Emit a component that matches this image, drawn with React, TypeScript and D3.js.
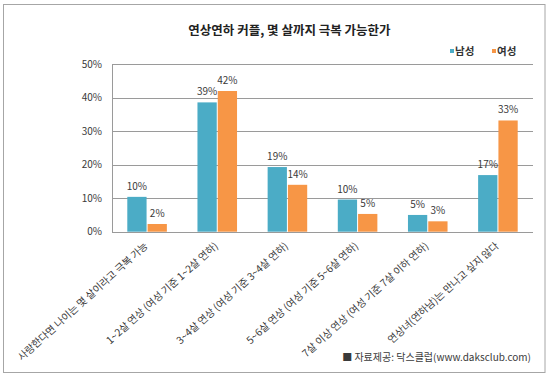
import React from "react";
import * as d3 from "d3";

const categories = [
  "사랑한다면 나이는 몇 살이라고 극복 가능",
  "1~2살 연상 (여성 기준 1~2살 연하)",
  "3~4살 연상 (여성 기준 3~4살 연하)",
  "5~6살 연상 (여성 기준 5~6살 연하)",
  "7살 이상 연상 (여성 기준 7살 이하 연하)",
  "연상녀(연하남)는 만나고 싶지 않다",
];
const seriesNames = ["남성", "여성"];
const men = [10.4, 38.6, 19.3, 9.6, 5.0, 16.9];
const women = [2.3, 42.0, 14.0, 5.3, 3.1, 33.2];
const yTicks = [0, 10, 20, 30, 40, 50];
const colors = ["#4BACC6", "#F79646"];
const title = "연상연하 커플, 몇 살까지 극복 가능한가";
const source = "■ 자료제공: 닥스클럽(www.daksclub.com)";

const FONT = "'Noto Sans CJK KR', 'Noto Sans', sans-serif";

export default function App() {
  const W = 550, H = 380;
  const left = 112, right = 533, top = 64.2, bottom = 231.7;
  const y = d3.scaleLinear().domain([0, 50]).range([bottom, top]);
  const x0 = d3.scaleBand<string>().domain(categories).range([left, right]).paddingInner(0).paddingOuter(0);
  const bw = x0.bandwidth();
  const x1 = d3.scaleBand<string>().domain(seriesNames).range([bw * 0.218, bw * 0.782]).paddingInner(0.05).paddingOuter(0);
  const data = [men, women];
  const textColor = "#3a3a3a";

  return (
    <svg width={W} height={H} style={{ position: "absolute", left: 0, top: 0, background: "#fff" }} fontFamily={FONT}>
      <rect x={0} y={0} width={W} height={H} fill="#fff" />
      <rect x={3.5} y={4.5} width={541.5} height={368} fill="none" stroke="#a6a6a6" strokeWidth={1} />
      <text x={289.5} y={35} textAnchor="middle" fontSize={12.5} fontWeight={700} fill="#222">{title}</text>
      {/* legend */}
      {seriesNames.map((s, i) => {
        const lx = [450, 492][i];
        return (
          <g key={s}>
            <rect x={lx} y={49} width={4} height={4} fill={colors[i]} />
            <text x={lx + 5} y={55} fontSize={10.5} fontWeight={700} fill="#333">{s}</text>
          </g>
        );
      })}
      {/* gridlines */}
      {yTicks.map((t) => (
        <g key={t}>
          <line x1={left} x2={right} y1={Math.round(y(t)) + 0.5} y2={Math.round(y(t)) + 0.5} stroke="#9a9a9a" strokeWidth={1} />
          <text x={102} y={y(t) + 3.5} textAnchor="end" fontSize={10} fill={textColor}>{`${t}%`}</text>
        </g>
      ))}
      <line x1={left + 0.5} x2={left + 0.5} y1={Math.round(top)} y2={Math.round(bottom) + 1} stroke="#9a9a9a" strokeWidth={1} />
      {/* bars */}
      {categories.map((c, ci) => (
        <g key={c} transform={`translate(${x0(c)},0)`}>
          {seriesNames.map((s, si) => {
            const v = data[si][ci];
            const bx = x1(s)!;
            return (
              <g key={s}>
                <rect x={bx} y={y(v)} width={x1.bandwidth()} height={y(0) - y(v)} fill={colors[si]} />
                <text x={bx + x1.bandwidth() / 2} y={y(v) - 7} textAnchor="middle" fontSize={10} fill={textColor}>{`${Math.round(v)}%`}</text>
              </g>
            );
          })}
        </g>
      ))}
      {/* x labels */}
      {categories.map((c) => (
        <text key={c} transform={`translate(${x0(c)! + bw / 2 + 1.5},247) rotate(-42)`} textAnchor="end" fontSize={10.2} fill={textColor}>{c}</text>
      ))}
      <text x={531} y={361} textAnchor="end" fontSize={10} fill={textColor}>{source}</text>
    </svg>
  );
}
